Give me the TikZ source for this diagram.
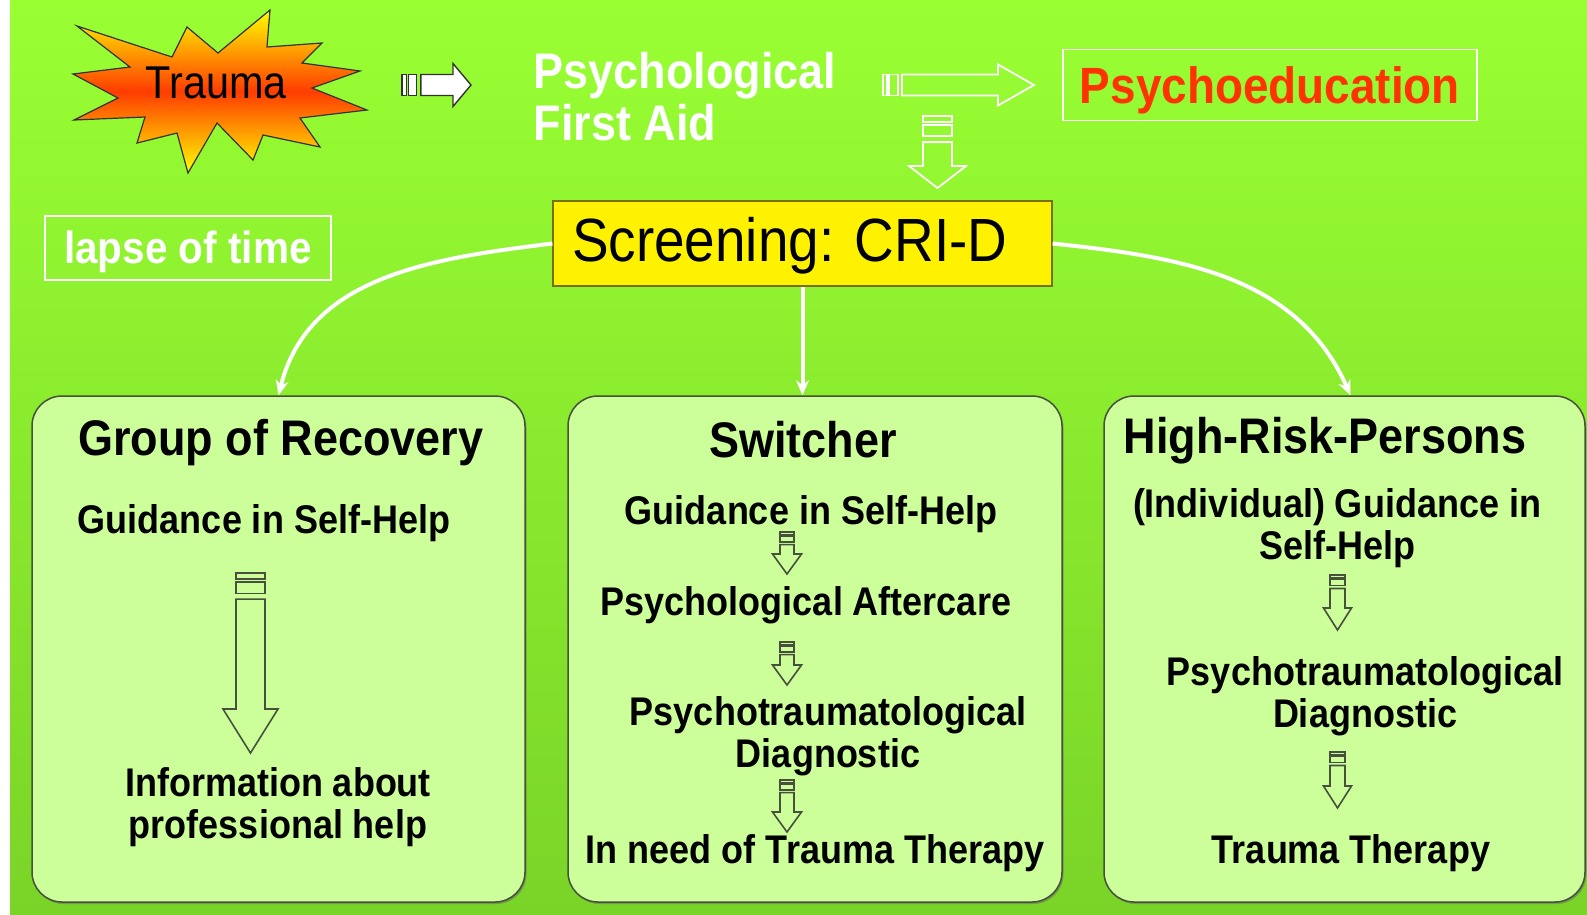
\documentclass[tikz,border=0pt]{standalone}
\usepackage{fontspec}
\setmainfont{Liberation Sans}[FakeStretch=0.9]
\usetikzlibrary{positioning,arrows.meta,shadows}

\definecolor{bgtop}{RGB}{153,255,51}
\definecolor{bgbottom}{RGB}{122,212,40}
\definecolor{boxfill}{RGB}{204,255,153}
\definecolor{boxline}{RGB}{70,80,60}
\definecolor{psyred}{RGB}{255,51,0}
\definecolor{burstred}{RGB}{255,60,0}
\definecolor{screenline}{RGB}{120,110,20}

\tikzset{
    pics/blockarrow/.style n args={4}{code={%
        \path[pic actions] (0,-#2/2) rectangle (0.2*#2,#2/2)
            (0.3*#2,-#2/2) rectangle (0.7*#2,#2/2);
        \path[pic actions] (0.9*#2,-#2/2) -- (#1-#4,-#2/2) -- (#1-#4,-#3/2)
            -- (#1,0) -- (#1-#4,#3/2) -- (#1-#4,#2/2) -- (0.9*#2,#2/2) -- cycle;
    }}
}

\begin{document}
\begin{tikzpicture}[
        x=1pt, y=-1pt,
        burst/.style = {draw=black!80, line width=1.2pt, top color=yellow, bottom color=yellow, middle color=burstred},
        darkarrow/.style = {draw=black!80, fill=white, line width=1.4pt},
        whitearrow/.style = {draw=white, line width=1.8pt},
        boxarrow/.style = {draw=boxline, line width=1.6pt},
        flow/.style = {draw=white, line width=4pt, -{Stealth[length=15pt,width=13pt]}},
        whitebox/.style = {draw=white, line width=1.6pt, inner sep=0pt},
        box/.style = {draw=boxline, line width=1.5pt, fill=boxfill, rounded corners=30pt, minimum height=506pt,
            drop shadow={shadow xshift=1.5pt, shadow yshift=-2pt, opacity=0.5, fill=black!60}},
        heading/.style = {anchor=base, font=\fontsize{50}{52}\selectfont\bfseries},
        item/.style = {anchor=base, align=center, font=\fontsize{40}{42}\selectfont\bfseries}
    ]
    \useasboundingbox (0,0) rectangle (1587,914);
    \shade[top color=bgtop, bottom color=bgbottom] (10,0) rectangle (1587,914);
    \fill[white] (0,0) rectangle (10,914);

    \draw[burst] (77,26) -- (172,57) -- (187,27) -- (218,53) -- (270,10) -- (267,47) -- (322,43)
        -- (302,63) -- (360,71) -- (312,88) -- (367,110) -- (300,118) -- (320,147) -- (263,135)
        -- (253,160) -- (217,123) -- (188,173) -- (177,133) -- (137,143) -- (145,117) -- (74,120)
        -- (118,98) -- (73,74) -- (130,67) -- cycle;
    \node[anchor=base, font=\fontsize{46}{46}\selectfont] (trauma) at (216,98) {Trauma};

    \pic[darkarrow] at (402,85) {blockarrow={69}{21}{43}{18}};
    \node[anchor=base west, align=left, text=white, font=\fontsize{50}{52}\selectfont\bfseries] (pfa) at (530,140) {Psychological\\First Aid};
    \pic[whitearrow] at (883,85) {blockarrow={151}{21}{41}{36}};
    \pic[whitearrow, rotate=-90] at (937.5,116) {blockarrow={72}{29}{57}{22}};

    \node[whitebox, minimum width=414pt, minimum height=71pt, text height=37pt, text depth=0pt, text=psyred,
        font=\fontsize{51}{51}\selectfont\bfseries] (edu) at (1270,85) {Psychoeducation};
    \node[whitebox, minimum width=286pt, minimum height=64pt, text height=32pt, text depth=2pt, text=white,
        font=\fontsize{45}{45}\selectfont\bfseries] (lapse) at (188,248) {lapse of time};
    \node[draw=screenline, line width=1.2pt, fill=yellow, minimum width=499pt, minimum height=85pt,
        text width=461pt, inner xsep=19pt, inner ysep=0pt, align=left, text height=43.5pt, text depth=8pt,
        font=\fontsize{61}{61}\selectfont] (screen) at (802.5,243.5) {Screening:\ CRI-D};

    \node[box, minimum width=493pt] (group) at (278.5,649) {};
    \node[box, minimum width=494pt] (switch) at (815,649) {};
    \node[box, minimum width=481pt] (risk) at (1344.5,649) {};

    \draw[flow] (screen.west) to[out=187,in=76] (group.north);
    \draw[flow] (screen.south) -- (screen.south |- switch.north);
    \draw[flow] (screen.east) to[out=-6,in=114] ([xshift=6pt]risk.north);

    \node[heading] (grouphd) at (281,455) {Group of Recovery};
    \node[item] (groupself) at (264,533) {Guidance in Self-Help};
    \pic[boxarrow, rotate=-90] at (250.5,573) {blockarrow={180}{29}{55}{44}};
    \node[item] (groupinfo) at (278,838) {Information about\\professional help};

    \node[heading] (switchhd) at (803,457) {Switcher};
    \node[item] (switchself) at (811,524) {Guidance in Self-Help};
    \pic[boxarrow, rotate=-90] at (787,532) {blockarrow={42}{14}{29}{20}};
    \node[item] (switchcare) at (806,615) {Psychological Aftercare};
    \pic[boxarrow, rotate=-90] at (787,642) {blockarrow={43}{14}{29}{20}};
    \node[item] (switchdiag) at (828,767) {Psychotraumatological\\Diagnostic};
    \pic[boxarrow, rotate=-90] at (787,780) {blockarrow={52}{14}{29}{20}};
    \node[item] (switchther) at (815,863) {In need of Trauma Therapy};

    \node[heading] (riskhd) at (1325,453) {High-Risk-Persons};
    \node[item] (riskself) at (1337,559) {(Individual) Guidance in\\Self-Help};
    \pic[boxarrow, rotate=-90] at (1337.5,575) {blockarrow={55}{15}{28}{22}};
    \node[item] (riskdiag) at (1365,727) {Psychotraumatological\\Diagnostic};
    \pic[boxarrow, rotate=-90] at (1337.5,752) {blockarrow={56}{15}{28}{22}};
    \node[item] (riskther) at (1351,863) {Trauma Therapy};
\end{tikzpicture}
\end{document}
